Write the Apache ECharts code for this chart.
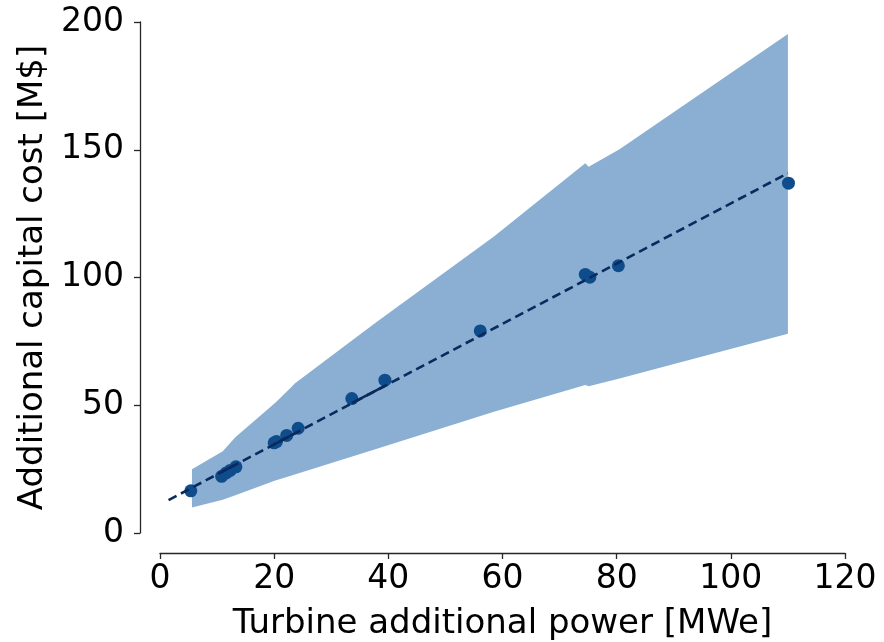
<!DOCTYPE html>
<html>
<head>
<meta charset="utf-8">
<script src="https://cdn.jsdelivr.net/npm/echarts@6/dist/echarts.min.js"></script>
<style>html,body{margin:0;padding:0;background:#fff}#c{width:884px;height:642px}</style>
</head>
<body>
<div id="c"></div>
<script>
// Uncertainty band (piecewise)
const bandX     = [5.6, 11.0, 13.2, 20.2, 23.2, 23.6, 38.0, 58.5, 74.5, 75.1, 80.5, 110.0];
const bandUpper = [25.0, 32.0, 37.5, 51.0, 57.5, 58.5, 82.7, 116.0, 144.7, 143.3, 150.2, 195.3];
const bandLower = [10.0, 13.0, 14.8, 20.5, 22.6, 22.9, 33.0, 47.5, 57.9, 57.4, 60.5, 78.0];
// Data points
const ptX = [5.4, 10.8, 11.6, 12.3, 13.3, 20.0, 20.4, 22.2, 24.2, 33.6, 39.4, 56.1, 74.5, 75.3, 80.3, 110.1];
const ptY = [16.5, 22.2, 23.5, 24.5, 25.9, 35.3, 35.8, 38.2, 41.0, 52.6, 59.8, 79.1, 101.2, 100.1, 104.6, 136.9];
// Linear fit (dashed) and the short stretches where it looks solid
const fitX = [1.5, 110.0];
const fitY = [12.9, 140.8];
const solidX = [10.8, 13.3, null, 20.0, 24.2, null, 33.6, 39.4];
const solidY = [23.9, 26.8, null, 34.7, 39.7, null, 50.8, 57.6];
// Axis ticks
const xTicks = {min: 0, max: 120, interval: 20};
const yTicks = {min: 0, max: 200, interval: 50};

const FONT = 'DejaVu Sans';
const AX = '#262626';
const chart = echarts.init(document.getElementById('c'), null, {renderer: 'canvas'});
chart.setOption({
  animation: false,
  backgroundColor: '#ffffff',
  grid: {left: 160, right: 39, top: 22, bottom: 109, containLabel: false, outerBoundsMode: 'none'},
  xAxis: {
    type: 'value', min: xTicks.min, max: xTicks.max, interval: xTicks.interval,
    offset: 20,
    name: 'Turbine additional power [MWe]', nameLocation: 'middle', nameGap: 54,
    nameTextStyle: {fontFamily: FONT, fontSize: 34, color: '#000'},
    axisLine: {show: true, onZero: false, lineStyle: {color: AX, width: 1.3}},
    axisTick: {show: true, length: 6, lineStyle: {color: AX, width: 1.3}},
    axisLabel: {fontFamily: FONT, fontSize: 33, color: '#000', margin: 10},
    splitLine: {show: false}
  },
  yAxis: {
    type: 'value', min: yTicks.min, max: yTicks.max, interval: yTicks.interval,
    offset: 20,
    name: 'Additional capital cost [M$]', nameLocation: 'middle', nameGap: 84,
    nameTextStyle: {fontFamily: FONT, fontSize: 34, color: '#000'},
    axisLine: {show: true, onZero: false, lineStyle: {color: AX, width: 1.3}},
    axisTick: {show: true, length: 6, lineStyle: {color: AX, width: 1.3}},
    axisLabel: {fontFamily: FONT, fontSize: 33, color: '#000', margin: 16},
    splitLine: {show: false}
  },
  series: [
    {
      type: 'custom',
      silent: true,
      z: 1,
      data: bandX.map((x, i) => [x, bandLower[i], bandUpper[i]]),
      encode: {x: 0, y: [1, 2]},
      renderItem: function (params, api) {
        if (params.dataIndex !== 0) return null;
        const pts = [];
        for (let i = 0; i < bandX.length; i++) pts.push(api.coord([bandX[i], bandUpper[i]]));
        for (let i = bandX.length - 1; i >= 0; i--) pts.push(api.coord([bandX[i], bandLower[i]]));
        return {type: 'polygon', shape: {points: pts}, style: {fill: '#8AAFD3'}};
      }
    },
    {
      type: 'scatter',
      z: 3,
      symbolSize: 13,
      itemStyle: {color: '#0F4C8C', opacity: 1},
      data: ptX.map((x, i) => [x, ptY[i]])
    },
    {
      type: 'line',
      z: 4,
      showSymbol: false,
      symbol: 'none',
      lineStyle: {color: '#0A2A5E', width: 2.6, type: [9, 5]},
      data: fitX.map((x, i) => [x, fitY[i]])
    },
    {
      type: 'line',
      z: 4,
      showSymbol: false,
      symbol: 'none',
      connectNulls: false,
      lineStyle: {color: '#0A2A5E', width: 2.6, type: 'solid'},
      data: solidX.map((x, i) => x === null ? ['-', '-'] : [x, solidY[i]])
    }
  ]
});
</script>
</body>
</html>
